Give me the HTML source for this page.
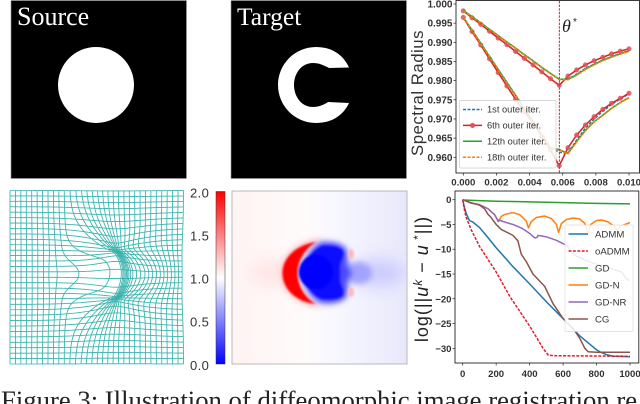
<!DOCTYPE html>
<html>
<head>
<meta charset="utf-8">
<style>
html,body{margin:0;padding:0;background:#fff;width:640px;height:404px;overflow:hidden}
svg{display:block;position:absolute;left:0;top:0}
text{font-family:"Liberation Sans",sans-serif}
.serif{font-family:"Liberation Serif",serif}
</style>
</head>
<body>
<svg id="fig" width="640" height="404" viewBox="0 0 640 404" xmlns="http://www.w3.org/2000/svg">
<defs>
<filter id="soft" x="-5%" y="-5%" width="110%" height="110%"><feGaussianBlur stdDeviation="0.35"/></filter>
<filter id="b1" x="-20%" y="-20%" width="140%" height="140%"><feGaussianBlur stdDeviation="1.1"/></filter>
<filter id="b2" x="-30%" y="-30%" width="160%" height="160%"><feGaussianBlur stdDeviation="3"/></filter>
<filter id="b3" x="-50%" y="-50%" width="200%" height="200%"><feGaussianBlur stdDeviation="8"/></filter>
<clipPath id="clipHeat"><rect x="232" y="191" width="175" height="173"/></clipPath>
<linearGradient id="heatBg" x1="0" x2="1" y1="0" y2="0">
<stop offset="0" stop-color="#fff3f3"/><stop offset="0.42" stop-color="#fffbfb"/><stop offset="0.6" stop-color="#f7f7ff"/><stop offset="1" stop-color="#e8e8fb"/>
</linearGradient>
<linearGradient id="cbar" x1="0" x2="0" y1="1" y2="0">
<stop offset="0" stop-color="#0000ff"/><stop offset="0.5" stop-color="#ffffff"/><stop offset="1" stop-color="#ff0000"/>
</linearGradient>
</defs>

<g filter="url(#soft)">
<rect x="11" y="0.5" width="175.5" height="178" fill="#000" stroke="#999" stroke-width="0.6"/>
<circle cx="96" cy="85" r="38" fill="#fff"/>
<text class="serif" x="17" y="25" font-size="26" fill="#fff">Source</text>
</g>
<g filter="url(#soft)">
<rect x="231" y="0.5" width="175.5" height="178" fill="#000" stroke="#999" stroke-width="0.6"/>
<path fill="#fff" d="M349 67.5 C343 54 331 47 316 47 C295 47 278 64 278 85 C278 106 295 123 316 123 C331 123 343 116 349 103 L328 102 C324 105 318 107 313 107 C301 107 294 96 294 85 C294 74 301 63 313 63 C319 63 323 65 329 68 Z"/>
<text class="serif" x="237" y="25" font-size="25.5" fill="#fff">Target</text>
</g>

<g id="mesh" fill="none" stroke="#35b2ac" stroke-width="0.85" filter="url(#soft)"></g>

<g filter="url(#soft)">
<rect x="216" y="191.5" width="9" height="172.5" fill="url(#cbar)" stroke="#333" stroke-width="0.5"/>
<text x="190" y="197.5" font-size="13" fill="#333" letter-spacing="0.4">2.0</text>
<text x="190" y="240.5" font-size="13" fill="#333" letter-spacing="0.4">1.5</text>
<text x="190" y="283.5" font-size="13" fill="#333" letter-spacing="0.4">1.0</text>
<text x="190" y="326.5" font-size="13" fill="#333" letter-spacing="0.4">0.5</text>
<text x="190" y="370" font-size="13" fill="#333" letter-spacing="0.4">0.0</text>
</g>

<g>
<rect x="232" y="191" width="175" height="173" fill="url(#heatBg)" stroke="#aaa" stroke-width="0.8"/>
<g clip-path="url(#clipHeat)">
<ellipse cx="272" cy="273" rx="22" ry="14" fill="#ffdada" opacity="0.6" filter="url(#b3)"/>
<ellipse cx="378" cy="273" rx="27" ry="14" fill="#c8c8ff" opacity="0.9" filter="url(#b3)"/>
<ellipse cx="358" cy="273" rx="14" ry="11" fill="#9c9cff" opacity="0.9" filter="url(#b2)"/>
<path d="M325 238 C298 240 281.5 255 281.5 273 C281.5 292 298 306 325 308 C308 302 297.5 288 297.5 273 C297.5 258 308 244 325 238 Z" fill="#ffb0b0" filter="url(#b2)"/>
<path d="M316 242 C296 245 282.5 258 282.5 273 C282.5 289 296 302 316 304 C305 298 297.5 286 297.5 273 C297.5 260 305 249 316 242 Z" fill="#ff0000" filter="url(#b1)"/>
<path d="M321 242 C332 241 345 243 347 251 C349 258 345 264 352 273 C345 282 349 288 347 295 C345 302 332 305 321 303 C312 300 305 290 300 273 C305 256 312 246 321 242 Z" fill="#4a4aff" filter="url(#b2)"/>
<path d="M322 246 C332 245 342 247 343 252 C344 258 338 262 340 273 C338 284 344 288 343 294 C342 299 332 300 322 299 C313 296 306 287 301 273 C306 259 313 250 322 246 Z" fill="#1010ff" filter="url(#b1)"/>
<circle cx="316" cy="272" r="17" fill="#0000ff" filter="url(#b1)"/>
<ellipse cx="351" cy="254" rx="3" ry="5" fill="#ffb8b8" filter="url(#b1)"/>
<ellipse cx="351" cy="292" rx="3" ry="5" fill="#ffb8b8" filter="url(#b1)"/>
</g>
</g>

<g id="topChart" filter="url(#soft)"></g>
<g id="botChart" filter="url(#soft)"></g>

<text class="serif" x="1" y="409" font-size="26.7" fill="#222">Figure 3: Illustration of diffeomorphic image registration re</text>
</svg>

<script>
// ---- spectral radius chart data ----
const topX = [0,0.000526,0.001053,0.001579,0.002105,0.002632,0.003158,0.003684,0.004211,0.004737,0.005263,0.005789,0.006316,0.006842,0.007368,0.007895,0.008421,0.008947,0.009474,0.01];
const upper6th = [0.9982,0.9964,0.9947,0.9929,0.9911,0.9894,0.9876,0.9858,0.9841,0.9823,0.9805,0.9788,0.9812,0.9828,0.9841,0.9852,0.9861,0.9870,0.9877,0.9883];
const lower6th = [0.9965,0.9928,0.9893,0.9857,0.9821,0.9786,0.9751,0.9719,0.9689,0.9654,0.9619,0.9578,0.9625,0.9658,0.9684,0.9706,0.9725,0.9741,0.9754,0.9767];
const upper1st = [0.9983,0.9966,0.9950,0.9933,0.9917,0.9900,0.9884,0.9867,0.9851,0.9834,0.9818,0.9803,0.9804,0.9817,0.9832,0.9843,0.9854,0.9863,0.9871,0.9878];
const lower1st = [0.9966,0.9932,0.9898,0.9864,0.9830,0.9796,0.9762,0.9728,0.9694,0.9660,0.9626,0.9613,0.9611,0.9645,0.9676,0.9700,0.9720,0.9738,0.9752,0.9766];
const upper12th = [0.9983,0.9967,0.9951,0.9934,0.9918,0.9901,0.9885,0.9868,0.9852,0.9835,0.9819,0.9804,0.9803,0.9815,0.9830,0.9842,0.9853,0.9862,0.9870,0.9877];
const lower12th = [0.9965,0.9932,0.9897,0.9863,0.9829,0.9795,0.9761,0.9727,0.9693,0.9659,0.9625,0.9620,0.9610,0.9641,0.9670,0.9693,0.9710,0.9728,0.9743,0.9756];
const upper18th = [0.9982,0.9966,0.9950,0.9933,0.9917,0.9900,0.9884,0.9867,0.9851,0.9834,0.9818,0.9803,0.9802,0.9814,0.9829,0.9841,0.9852,0.9861,0.9869,0.9876];
const lower18th = [0.9965,0.9931,0.9896,0.9862,0.9828,0.9794,0.9760,0.9726,0.9692,0.9658,0.9624,0.9619,0.9609,0.9640,0.9669,0.9692,0.9709,0.9727,0.9742,0.9755];
const thetaStar = [0.0058];
const topXTicks = [0,0.002,0.004,0.006,0.008,0.01];
const topXLabels = ["0.000","0.002","0.004","0.006","0.008","0.010"];
const topYTicks = [1,0.995,0.99,0.985,0.98,0.975,0.97,0.965,0.96];
const topYLabels = ["1.000","0.995","0.990","0.985","0.980","0.975","0.970","0.965","0.960"];
const topLegendLabels = ["1st outer iter.","6th outer iter.","12th outer iter.","18th outer iter."];

// ---- convergence chart data ----
const botXTicks = [0,200,400,600,800,1000];
const botXLabels = ["0","200","400","600","800","1000"];
const botYTicks = [0,-5,-10,-15,-20,-25,-30];
const botYLabels = ["0","\u22125","\u221210","\u221215","\u221220","\u221225","\u221230"];
const admmIter = [0,10,20,40,60,100,150,200,250,300,400,500,600,700,800,820,860,900,1000];
const admmVal = [0,-1.5,-2.7,-4.2,-4.5,-5.6,-7.6,-9.7,-11.6,-13.5,-17,-20.6,-24,-27.5,-30.3,-30.7,-31.3,-31.6,-31.7];
const oadmmIter = [0,10,20,50,100,200,283,402,482,512,560,1000];
const oadmmVal = [0,-2,-3.5,-6,-9.4,-14.6,-19.6,-25.6,-30.1,-31.4,-31.5,-31.6];
const gdIter = [0,200,400,600,800,1000];
const gdVal = [-0.05,-0.3,-0.45,-0.6,-0.75,-0.85];
const gdnIter = [0,50,100,150,190,215,230,250,300,340,380,393,410,440,490,530,560,573,590,620,660,700,730,750,765,800,830,870,910,925,940,970,1000];
const gdnVal = [0,-0.7,-1,-1.8,-3,-4.4,-3.4,-3,-2.6,-3,-4.3,-5.7,-4.4,-3.6,-3.3,-3.8,-5,-6.6,-4.8,-4,-3.7,-3.9,-4.8,-6.8,-5,-4.2,-4.1,-4.5,-5.5,-6.2,-5.4,-5,-4.6];
const gdnrIter = [0,50,100,150,190,212,216,250,300,350,400,430,445,450,500,560,620,660,680,760,850,950,985,1000];
const gdnrVal = [0,-0.7,-1,-1.8,-3,-4.4,-4.1,-4.5,-5,-5.7,-6.8,-7.7,-7.6,-7.2,-7.5,-8.2,-9.2,-10.8,-11.4,-12.6,-13.5,-14.6,-16.2,-16.3];
const cgIter = [0,50,100,130,150,170,200,230,260,300,330,350,380,420,490,540,600,660,700,730,750,800,1000];
const cgVal = [0,-0.6,-1.1,-1.8,-2.9,-3.6,-5,-6,-6.5,-7.2,-8.3,-11,-12.5,-15,-17.5,-21,-24,-26,-28,-30,-30.7,-30.8,-30.8];
const botLegendLabels = ["ADMM","oADMM","GD","GD-N","GD-NR","CG"];

// ---- axis functions ----
function xTop(v){return 463.3+(v/0.01)*165.7;}
function yTop(v){return 4+(1-v)/0.04*153.3;}
function xBot(v){return 462.7+(v/1000)*167.3;}
function yBot(v){return 199.7+(-v/30)*148.6;}

const NS='http://www.w3.org/2000/svg';
function mk(parent,tag,attrs,name,text){
  const el=document.createElementNS(NS,tag);
  for(const k in attrs){el.setAttribute(k,attrs[k]);}
  
  
  if(text!==undefined){el.textContent=text;}
  parent.appendChild(el);
  return el;
}
function pathOf(xs,ys,fx,fy){
  return xs.map((x,i)=>(i?'L':'M')+fx(x).toFixed(2)+' '+fy(ys[i]).toFixed(2)).join('');
}

// ---- top chart ----
(function(){
  const g=document.getElementById('topChart');
  mk(g,'rect',{x:456,y:0.5,width:183.5,height:172.5,fill:'#fff',stroke:'#222','stroke-width':0.9},'plot-frame');
  topXTicks.forEach((t,i)=>{
    mk(g,'line',{x1:xTop(t),x2:xTop(t),y1:173,y2:175.5,stroke:'#222','stroke-width':0.7},'x-tick');
    mk(g,'text',{x:xTop(t),y:185.5,'font-size':9.6,'font-weight':'bold','text-anchor':'middle',fill:'#333'},'x-tick-label',topXLabels[i]);
  });
  topYTicks.forEach((t,i)=>{
    mk(g,'line',{x1:453.5,x2:456,y1:yTop(t),y2:yTop(t),stroke:'#222','stroke-width':0.7},'y-tick');
    mk(g,'text',{x:452.5,y:yTop(t)+3.5,'font-size':10,'font-weight':'bold','text-anchor':'end',fill:'#333'},'y-tick-label',topYLabels[i]);
  });
  mk(g,'text',{transform:'translate(423,93) rotate(-90)','font-size':16.8,'text-anchor':'middle',fill:'#333','letter-spacing':0.5},'y-axis-title','Spectral Radius');
  mk(g,'path',{d:pathOf(topX,upper1st,xTop,yTop),fill:'none',stroke:'#1f77b4','stroke-width':1.5,'stroke-dasharray':'3 1.5'},'series-1st-upper');
  mk(g,'path',{d:pathOf(topX,lower1st,xTop,yTop),fill:'none',stroke:'#1f77b4','stroke-width':1.5,'stroke-dasharray':'3 1.5'},'series-1st-lower');
  mk(g,'path',{d:pathOf(topX,upper6th,xTop,yTop),fill:'none',stroke:'#d62728','stroke-width':1.6},'series-6th-upper');
  mk(g,'path',{d:pathOf(topX,lower6th,xTop,yTop),fill:'none',stroke:'#d62728','stroke-width':1.6},'series-6th-lower');
  topX.forEach((x,i)=>{
    mk(g,'circle',{cx:xTop(x),cy:yTop(upper6th[i]),r:2.3,fill:'#e0555a',stroke:'#d62728','stroke-width':0.4,opacity:0.85},'marker-6th-upper');
    mk(g,'circle',{cx:xTop(x),cy:yTop(lower6th[i]),r:2.3,fill:'#e0555a',stroke:'#d62728','stroke-width':0.4,opacity:0.85},'marker-6th-lower');
  });
  mk(g,'path',{d:pathOf(topX,upper12th,xTop,yTop),fill:'none',stroke:'#2ca02c','stroke-width':1.5},'series-12th-upper');
  mk(g,'path',{d:pathOf(topX,lower12th,xTop,yTop),fill:'none',stroke:'#2ca02c','stroke-width':1.5},'series-12th-lower');
  mk(g,'path',{d:pathOf(topX,upper18th,xTop,yTop),fill:'none',stroke:'#ff7f0e','stroke-width':1.4,'stroke-dasharray':'3 1.5'},'series-18th-upper');
  mk(g,'path',{d:pathOf(topX,lower18th,xTop,yTop),fill:'none',stroke:'#ff7f0e','stroke-width':1.4,'stroke-dasharray':'3 1.5'},'series-18th-lower');
  mk(g,'line',{x1:xTop(thetaStar[0]),x2:xTop(thetaStar[0]),y1:1,y2:173,stroke:'#ee2a3a','stroke-width':1.1,'stroke-dasharray':'2.4 1.2'},'theta-star-line');
  mk(g,'text',{x:562,y:32,'font-size':18,'font-style':'italic',fill:'#222',class:'serif'},'theta-star-label','\u03b8');
  mk(g,'text',{x:573,y:25,'font-size':10,fill:'#222'},'theta-star-superscript','*');
  // legend
  mk(g,'rect',{x:459.5,y:100.5,width:96.5,height:67.5,rx:1.5,fill:'#fff','fill-opacity':0.86,stroke:'#ccc','stroke-width':0.7},'legend-box');
  const colors=['#1f77b4','#d62728','#2ca02c','#ff7f0e'];
  const dashes=['3 1.5','','','3 1.5'];
  topLegendLabels.forEach((s,i)=>{
    const y=109.5+i*15.9;
    const a={x1:463,x2:482,y1:y,y2:y,stroke:colors[i],'stroke-width':1.5};
    if(dashes[i]){a['stroke-dasharray']=dashes[i];}
    mk(g,'line',a,'legend-handle');
    if(i===1){mk(g,'circle',{cx:472.5,cy:y,r:2.3,fill:'#e0555a',stroke:'#d62728','stroke-width':0.4},'legend-marker');}
    mk(g,'text',{x:487,y:y+3.2,'font-size':9.3,fill:'#333'},'legend-entry',s);
  });
})();

// ---- bottom chart ----
(function(){
  const g=document.getElementById('botChart');
  mk(g,'rect',{x:455,y:191,width:183.8,height:172,fill:'#fff',stroke:'#222','stroke-width':0.9},'plot-frame');
  botXTicks.forEach((t,i)=>{
    mk(g,'line',{x1:xBot(t),x2:xBot(t),y1:363,y2:365.5,stroke:'#222','stroke-width':0.7},'x-tick');
    mk(g,'text',{x:xBot(t),y:377,'font-size':9.6,'font-weight':'bold','text-anchor':'middle',fill:'#333'},'x-tick-label',botXLabels[i]);
  });
  botYTicks.forEach((t,i)=>{
    mk(g,'line',{x1:452.5,x2:455,y1:yBot(t),y2:yBot(t),stroke:'#222','stroke-width':0.7},'y-tick');
    mk(g,'text',{x:451.5,y:yBot(t)+3.5,'font-size':9.6,'font-weight':'bold','text-anchor':'end',fill:'#333'},'y-tick-label',botYLabels[i]);
  });
  const yt=mk(g,'text',{transform:'translate(428,279) rotate(-90)','font-size':18,'text-anchor':'middle',fill:'#222','letter-spacing':1},'y-axis-title','log(||');
  const addSpan=(txt,attrs)=>{const s=document.createElementNS(NS,'tspan');for(const k in attrs){s.setAttribute(k,attrs[k]);}s.textContent=txt;yt.appendChild(s);};
  addSpan('u',{'font-style':'italic'});
  addSpan('k',{'font-style':'italic','font-size':12,dy:-6});
  addSpan(' \u2212 ',{dy:6});
  addSpan('u',{'font-style':'italic'});
  addSpan(' *',{'font-size':12,dy:-6});
  addSpan('||)',{dy:6});
  const series=[
    [admmIter,admmVal,'#1f77b4','','series-admm'],
    [oadmmIter,oadmmVal,'#e41a2c','3 1.4','series-oadmm'],
    [gdIter,gdVal,'#2ca02c','','series-gd'],
    [gdnIter,gdnVal,'#ff7f0e','','series-gd-n'],
    [gdnrIter,gdnrVal,'#9467bd','','series-gd-nr'],
    [cgIter,cgVal,'#8c564b','','series-cg']
  ];
  series.forEach(s=>{
    const a={d:pathOf(s[0],s[1],xBot,yBot),fill:'none',stroke:s[2],'stroke-width':1.5,'stroke-linejoin':'round'};
    if(s[3]){a['stroke-dasharray']=s[3];}
    mk(g,'path',a,s[4]);
  });
  mk(g,'rect',{x:565,y:225,width:68,height:106.5,rx:1.5,fill:'#fff','fill-opacity':0.86,stroke:'#ddd','stroke-width':0.7},'legend-box');
  botLegendLabels.forEach((t,i)=>{
    const y=234+i*17;
    const a={x1:568.5,x2:588,y1:y,y2:y,stroke:series[i][2],'stroke-width':1.5};
    if(series[i][3]){a['stroke-dasharray']=series[i][3];}
    mk(g,'line',a,'legend-handle');
    mk(g,'text',{x:595,y:y+3.4,'font-size':9.6,fill:'#333'},'legend-entry',t);
  });
})();

// ---- deformation mesh ----
(function(){
  const g=document.getElementById('mesh');
  const L=10,R=183.5,T=190.5,B=364,N=32;
  const cy=274;
  const tips=[[116,251],[116,298]];
  const fx=[10,42,47.9,53.3,58.8,64.2,69.6,75,80.5,85.9,91.3,96.7,102.1,107.5,113,118.4,130,150,183.5];
  const fv=[10,42,47.5,55,75,108,123,125,126.5,128,129.5,131,132.5,134.5,137,141,150,163,183.5];
  const sx=[10,53,59,64,70,80,97,118,150,184];
  const sv=[10,10,10,13,27,30,30,24,24,24];
  function interp(xs,vs,v){
    if(v<=xs[0])return vs[0];
    for(let i=1;i<xs.length;i++){
      if(v<=xs[i]){return vs[i-1]+(vs[i]-vs[i-1])*(v-xs[i-1])/(xs[i]-xs[i-1]);}
    }
    return vs[vs.length-1];
  }
  function pull(pt,tip,k,sxx,syy,xf){
    const ax=tip[0]-pt[0],ay=tip[1]-pt[1];
    const d=(ax/sxx)*(ax/sxx)+(ay/syy)*(ay/syy);
    const w=k*Math.exp(-d/2);
    return [pt[0]+ax*w*xf,pt[1]+ay*w];
  }
  function warp(x,y){
    const dy=y-cy;
    const sig=interp(sx,sv,x);
    const gg=Math.exp(-(dy*dy)/(2*sig*sig));
    let p=[x+(interp(fx,fv,x)-x)*gg,y];
    tips.forEach(t=>{p=pull(p,t,0.32,32,22,0.5);});
    tips.forEach(t=>{p=pull(p,t,0.72,20,11,0.85);});
    return p;
  }
  for(let i=0;i<=N;i++){
    const c=i/N;
    let d1='',d2='';
    for(let j=0;j<=240;j++){
      const u=j/240;
      const a=warp(L+(R-L)*c,T+(B-T)*u);
      const b=warp(L+(R-L)*u,T+(B-T)*c);
      d1+=(j?'L':'M')+a[0].toFixed(2)+' '+a[1].toFixed(2);
      d2+=(j?'L':'M')+b[0].toFixed(2)+' '+b[1].toFixed(2);
    }
    mk(g,'path',{d:d1},'grid-line-vertical');
    mk(g,'path',{d:d2},'grid-line-horizontal');
  }
})();
</script>
</body>
</html>
